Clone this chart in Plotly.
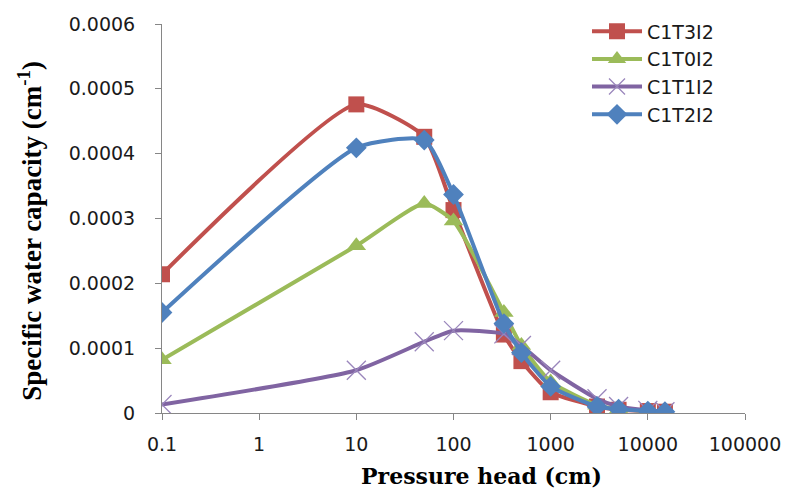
import plotly.graph_objects as go

pressure = [0.1, 10, 50, 100, 330, 500, 1000, 3000, 5000, 10000, 15000]
c1t3i2 = [0.000214, 0.000476, 0.000426, 0.000313, 0.000121, 0.000080, 0.000032, 0.000010, 0.000005, 0.000003, 0.000002]
c1t0i2 = [0.000082, 0.000258, 0.000323, 0.000296, 0.000155, 0.000104, 0.000048, 0.000012, 0.000006, 0.000003, 0.000001]
c1t1i2 = [0.000013, 0.000066, 0.000110, 0.000127, 0.000122, 0.000104, 0.000066, 0.000022, 0.000010, 0.000004, 0.000002]
c1t2i2 = [0.000155, 0.000409, 0.000421, 0.000337, 0.000138, 0.000093, 0.000041, 0.000010, 0.000006, 0.000003, 0.000002]

x_tickvals = [0.1, 1, 10, 100, 1000, 10000, 100000]
x_ticktext = ["0.1", "1", "10", "100", "1000", "10000", "100000"]
y_tickvals = [0, 0.0001, 0.0002, 0.0003, 0.0004, 0.0005, 0.0006]
y_ticktext = ["0", "0.0001", "0.0002", "0.0003", "0.0004", "0.0005", "0.0006"]

series = [
    ("C1T3I2", c1t3i2, "#C0504D", dict(symbol="square", size=16)),
    ("C1T0I2", c1t0i2, "#9BBB59", dict(symbol="triangle-up", size=17)),
    ("C1T1I2", c1t1i2, "#8064A2", dict(symbol="x-thin", size=19, line=dict(width=1.3, color="#9A86BC"))),
    ("C1T2I2", c1t2i2, "#4F81BD", dict(symbol="diamond", size=16)),
]

fig = go.Figure()
for name, vals, color, mk in series:
    m = dict(color=color)
    m.update(mk)
    fig.add_trace(go.Scatter(
        x=pressure, y=vals, name=name, mode="lines+markers",
        line=dict(color=color, width=4, shape="spline", smoothing=0.55),
        marker=m,
    ))

tickfont = dict(family="DejaVu Sans", size=19, color="#1a1a1a")
fig.update_layout(
    width=793, height=493,
    margin=dict(l=162, r=42, t=21, b=80),
    paper_bgcolor="white", plot_bgcolor="white",
    showlegend=True,
    legend=dict(x=0.729, y=1.03, xanchor="left", yanchor="top",
                font=dict(family="DejaVu Sans", size=19, color="#1a1a1a"),
                bgcolor="rgba(0,0,0,0)", itemwidth=50, tracegroupgap=0),
    xaxis=dict(type="log", range=[-1, 5], tickvals=x_tickvals, ticktext=x_ticktext,
               showgrid=False, zeroline=False, showline=True, linecolor="#868686", linewidth=1,
               ticks="outside", ticklen=6, tickcolor="#868686", tickfont=tickfont,
               ticklabelstandoff=8),
    yaxis=dict(range=[0, 0.0006], tickvals=y_tickvals, ticktext=y_ticktext,
               showgrid=False, zeroline=False, showline=True, linecolor="#868686", linewidth=1,
               ticks="outside", ticklen=6, tickcolor="#868686", tickfont=tickfont,
               ticklabelstandoff=16),
    annotations=[
        dict(text="Pressure head (cm)", xref="paper", yref="paper", x=0.5486, y=-0.163,
             showarrow=False, xanchor="center", yanchor="middle",
             font=dict(family="DejaVu Serif", size=22, color="black", weight="bold")),
        dict(text="Specific water capacity (cm<sup>-1</sup>)", xref="paper", yref="paper",
             x=-0.2277, y=0.469, textangle=-90, showarrow=False,
             xanchor="center", yanchor="middle",
             font=dict(family="Liberation Serif", size=27, color="black", weight="bold")),
    ],
)

fig.write_html("out.html")
